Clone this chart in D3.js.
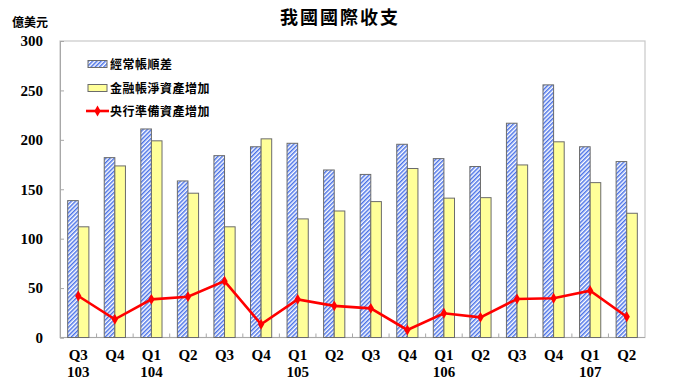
<!DOCTYPE html>
<html><head><meta charset="utf-8">
<script src="https://cdn.jsdelivr.net/npm/d3@7"></script>
<style>
html,body{margin:0;padding:0;background:#fff;}
svg{display:block;}
.cjk{font-family:"Noto Sans CJK TC","Noto Sans CJK SC",sans-serif;}
.num{font-family:"Liberation Serif","Times New Roman",serif;font-weight:bold;}
</style>
</head><body>
<svg id="chart" width="680" height="382"></svg>
<script>
const quarters = ["Q3","Q4","Q1","Q2","Q3","Q4","Q1","Q2","Q3","Q4","Q1","Q2","Q3","Q4","Q1","Q2"];
const years    = ["103","","104","","","","105","","","","106","","","","107",""];
const currentAccount = [138.5,182,211,158.4,184,193,196.5,169.5,165,195.5,181,173,216.8,255.6,193,178];
const financialAccount = [112,173.6,199,146,112,201,120,128,137.5,171,141,141.5,174.6,198,156.7,125.7];
const reserveAssets = [42,18.4,38.6,41.3,57,13.3,38.6,32,29.5,7.6,24.5,20.4,39,39.7,47.4,21];
const yTicks = [0,50,100,150,200,250,300];
const seriesNames = ["經常帳順差","金融帳淨資產增加","央行準備資產增加"];
const title = "我國國際收支";
const unit = "億美元";

const svg = d3.select("#chart");
const L = 60, R = 645, T = 41, B = 337.5;
const idx = d3.range(quarters.length);

const defs = svg.append("defs");
const pat = defs.append("pattern").attr("id","hatch").attr("patternUnits","userSpaceOnUse")
  .attr("width",3).attr("height",3).attr("patternTransform","rotate(45)");
pat.append("rect").attr("width",3).attr("height",3).attr("fill","#ffffff");
pat.append("rect").attr("width",1.5).attr("height",3).attr("fill","#4a72e8");

const x0 = d3.scaleBand().domain(idx).range([L,R]).paddingInner(0.42).paddingOuter(0.21);
const xb = d3.scaleBand().domain(idx).range([L,R]).padding(0);
const x1 = d3.scaleBand().domain([0,1]).range([0,x0.bandwidth()]);
const y = d3.scaleLinear().domain([0,300]).range([B,T]);

// frame
svg.append("rect").attr("x",L).attr("y",T).attr("width",R-L).attr("height",B-T)
  .attr("fill","none").attr("stroke","#c8c8c8").attr("stroke-width",1.2);

// y axis
const yAxis = d3.axisLeft(y).tickValues(yTicks).tickSize(-4).tickPadding(17);
const gy = svg.append("g").attr("transform",`translate(${L},0)`).call(yAxis);
gy.select(".domain").attr("stroke","#a8a8a8");
gy.selectAll(".tick line").attr("stroke","#a8a8a8");
gy.selectAll("text").attr("class","num").attr("font-size",15).attr("fill","#000");

// bottom ticks at band boundaries
svg.append("g").selectAll("line").data(d3.range(1,quarters.length)).join("line")
  .attr("x1",d=>xb(d)).attr("x2",d=>xb(d)).attr("y1",B).attr("y2",B-4)
  .attr("stroke","#a8a8a8");
svg.append("line").attr("x1",L).attr("x2",R).attr("y1",B).attr("y2",B).attr("stroke","#a8a8a8").attr("stroke-width",1.2);

// bars
const g = svg.append("g");
g.selectAll(".b1").data(currentAccount).join("rect")
  .attr("x",(d,i)=>x0(i)+x1(0)).attr("y",d=>y(d))
  .attr("width",x1.bandwidth()).attr("height",d=>B-y(d))
  .attr("fill","url(#hatch)").attr("stroke","#6b6b6b").attr("stroke-width",1);
g.selectAll(".b2").data(financialAccount).join("rect")
  .attr("x",(d,i)=>x0(i)+x1(1)).attr("y",d=>y(d))
  .attr("width",x1.bandwidth()).attr("height",d=>B-y(d))
  .attr("fill","#ffff99").attr("stroke","#6b6b6b").attr("stroke-width",1);

// line
const cx = i => x0(i)+x0.bandwidth()/2;
svg.append("path").datum(reserveAssets)
  .attr("d",d3.line().x((d,i)=>cx(i)).y(d=>y(d)))
  .attr("fill","none").attr("stroke","#ff0000").attr("stroke-width",2.6);
const diamond = d3.symbol().type(d3.symbolDiamond).size(34);
svg.append("g").selectAll("path").data(reserveAssets).join("path")
  .attr("d",diamond).attr("transform",(d,i)=>`translate(${cx(i)},${y(d)})`)
  .attr("fill","#ff0000");

// x labels
svg.append("g").selectAll("text").data(quarters).join("text")
  .attr("class","num").attr("font-size",15).attr("text-anchor","middle")
  .attr("x",(d,i)=>cx(i)).attr("y",360).text(d=>d);
svg.append("g").selectAll("text").data(years).join("text")
  .attr("class","num").attr("font-size",15).attr("text-anchor","middle")
  .attr("x",(d,i)=>cx(i)).attr("y",377).text(d=>d);

// title & unit
svg.append("text").attr("class","cjk").attr("x",340).attr("y",24).attr("text-anchor","middle")
  .attr("font-size",18).attr("font-weight","bold").attr("letter-spacing",2).text(title);
svg.append("text").attr("class","cjk").attr("x",12).attr("y",27)
  .attr("font-size",12).attr("font-weight","bold").text(unit);

// legend
const lg = svg.append("g");
const ly = [64,88,111];
lg.append("rect").attr("x",88).attr("y",ly[0]-3.5).attr("width",19).attr("height",7)
  .attr("fill","url(#hatch)").attr("stroke","#6b6b6b");
lg.append("rect").attr("x",88).attr("y",ly[1]-3.5).attr("width",19).attr("height",7)
  .attr("fill","#ffff99").attr("stroke","#6b6b6b");
lg.append("line").attr("x1",86).attr("x2",109).attr("y1",ly[2]).attr("y2",ly[2])
  .attr("stroke","#ff0000").attr("stroke-width",2.6);
lg.append("path").attr("d",diamond).attr("transform",`translate(97.5,${ly[2]})`).attr("fill","#ff0000");
lg.selectAll("text").data(seriesNames).join("text").attr("class","cjk")
  .attr("x",110).attr("y",(d,i)=>ly[i]+4.5).attr("font-size",12).attr("font-weight","bold")
  .attr("letter-spacing",0.5).text(d=>d);
</script>
</body></html>
